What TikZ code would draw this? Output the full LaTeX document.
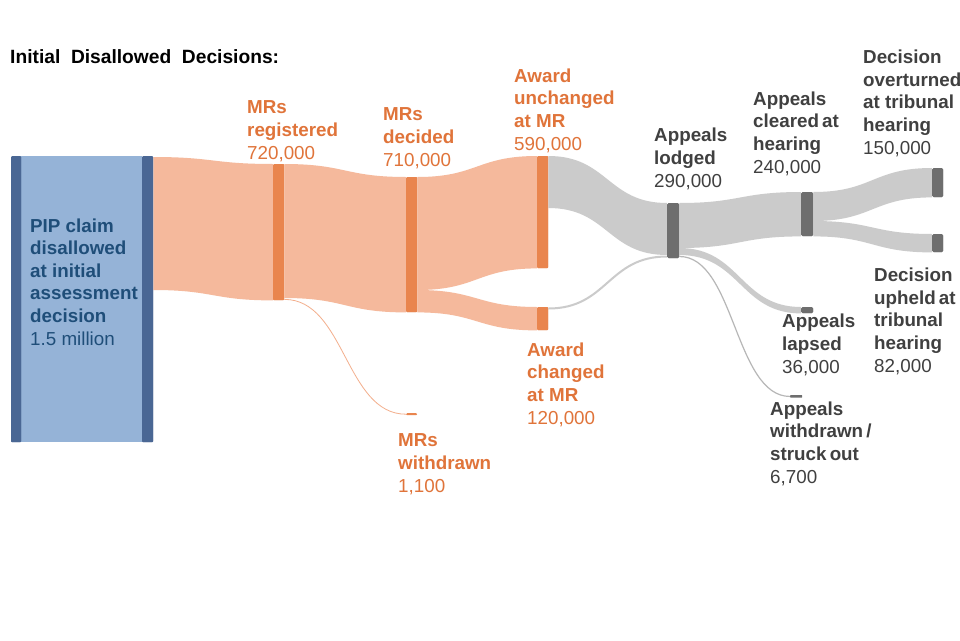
\documentclass[tikz,border=0pt]{standalone}
\usepackage{fontspec}
\setmainfont{Liberation Sans}
\usetikzlibrary{calc}
\definecolor{boxblue}{HTML}{95B3D7}
\definecolor{barblue}{HTML}{4A6794}
\definecolor{txtblue}{HTML}{1F4E79}
\definecolor{barorange}{HTML}{E9854E}
\definecolor{floworange}{HTML}{F5B99C}
\definecolor{txtorange}{HTML}{E0743A}
\definecolor{flowgrey}{HTML}{CBCBCB}
\definecolor{bargrey}{HTML}{6E6E6E}
\definecolor{txtgrey}{HTML}{404040}
\newcommand\flowband[5]{\fill[#5] let \p1=(#1), \p2=(#2), \p3=(#3), \p4=(#4) in
  (\p1) .. controls ({(\x1+\x3)/2},\y1) and ({(\x1+\x3)/2},\y3) .. (\p3) -- (\p4)
  .. controls ({(\x1+\x3)/2},\y4) and ({(\x1+\x3)/2},\y2) .. (\p2) -- cycle;}
\newcommand\flowline[3]{\draw[#3] let \p1=(#1), \p2=(#2) in
  (\p1) .. controls ({(\x1+\x2)/2},\y1) and ({(\x1+\x2)/2},\y2) .. (\p2);}
\begin{document}
\begin{tikzpicture}[x=1pt,y=-1pt,
  barO/.style={fill=barorange, rounded corners=1pt, inner sep=0pt, anchor=north west},
  barG/.style={fill=bargrey, rounded corners=1.5pt, inner sep=0pt, anchor=north west},
  barB/.style={fill=barblue, rounded corners=1pt, inner sep=0pt, anchor=north west},
  lbl/.style={anchor=base west, align=left, inner sep=0pt, font=\fontsize{18.8}{22.6}\selectfont},
  olbl/.style={lbl, text=txtorange},
  glbl/.style={lbl, text=txtgrey},
  blbl/.style={lbl, text=txtblue}]
\clip (0,0) rectangle (960,640);
\fill[white] (0,0) rectangle (960,640);
% title
\node[anchor=base west, inner sep=0pt, font=\fontsize{19.2}{23}\selectfont\bfseries] (title) at (10,63) {Initial\ \ Disallowed\ \ Decisions:};
% bars
\node[fill=boxblue, inner sep=0pt, anchor=north west, minimum width=126pt, minimum height=286pt] (src) at (16,156) {};
\node[barB, minimum width=10pt, minimum height=286pt] (src1) at (11,156) {};
\node[barB, minimum width=11pt, minimum height=286pt] (src2) at (142,156) {};
\node[barO, minimum width=11pt, minimum height=136pt] (reg) at (273,164) {};
\node[barO, minimum width=11pt, minimum height=135pt] (dec) at (406,177) {};
\node[barO, minimum width=11pt, minimum height=2pt] (wd) at (406,413) {};
\node[barO, minimum width=11pt, minimum height=112pt] (unc) at (537,156) {};
\node[barO, minimum width=11pt, minimum height=23pt] (chg) at (537,307) {};
\node[barG, minimum width=12pt, minimum height=55pt] (lod) at (667,203) {};
\node[barG, minimum width=12pt, minimum height=44pt] (clr) at (801,192) {};
\node[barG, minimum width=12pt, minimum height=6pt] (lap) at (801,307) {};
\node[barG, minimum width=12pt, minimum height=2.5pt, rounded corners=0.5pt] (awd) at (790,395) {};
\node[barG, minimum width=11pt, minimum height=29pt] (ovt) at (932,168) {};
\node[barG, minimum width=11pt, minimum height=18pt] (uph) at (932,234) {};
% flow end points
\coordinate (s1) at ($(src2.north east)+(0,1)$);
\coordinate (s2) at ($(src2.north east)+(0,134)$);
\coordinate (r2) at ($(reg.north east)+(0,134)$);
\coordinate (r3) at ($(reg.south east)+(0,-1)$);
\coordinate (d2) at ($(dec.north east)+(0,113)$);
\coordinate (u2) at ($(unc.north east)+(0,52)$);
\coordinate (c1) at ($(chg.north east)+(0,1.5)$);
\coordinate (l1) at ($(lod.north west)+(0,52)$);
\coordinate (l2) at ($(lod.north west)+(0,53.5)$);
\coordinate (l3) at ($(lod.north east)+(0,45)$);
\coordinate (l4) at ($(lod.north east)+(0,52)$);
\coordinate (l5) at ($(lod.north east)+(0,53.5)$);
\coordinate (k2) at ($(clr.north east)+(0,29)$);
% flows
\flowband{s1}{s2}{reg.north west}{reg.south west}{floworange}
\flowband{reg.north east}{r2}{dec.north west}{dec.south west}{floworange}
\flowline{r3}{wd.west}{floworange!80!barorange, line width=0.8pt}
\flowband{dec.north east}{d2}{unc.north west}{unc.south west}{floworange}
\flowband{d2}{dec.south east}{chg.north west}{chg.south west}{floworange}
\flowband{unc.north east}{u2}{lod.north west}{l1}{flowgrey}
\flowline{c1}{l2}{flowgrey, line width=2pt}
\flowband{lod.north east}{l3}{clr.north west}{clr.south west}{flowgrey}
\flowband{l3}{l4}{lap.north west}{lap.south west}{flowgrey}
\flowline{l5}{awd.west}{flowgrey!90!black, line width=1.2pt}
\flowband{clr.north east}{k2}{ovt.north west}{ovt.south west}{flowgrey}
\flowband{k2}{clr.south east}{uph.north west}{uph.south west}{flowgrey}
% redraw bars on top
\node[barB, minimum width=10pt, minimum height=286pt] at (11,156) {};
\node[barB, minimum width=11pt, minimum height=286pt] at (142,156) {};
\node[barO, minimum width=11pt, minimum height=136pt] at (273,164) {};
\node[barO, minimum width=11pt, minimum height=135pt] at (406,177) {};
\node[barO, minimum width=11pt, minimum height=112pt] at (537,156) {};
\node[barO, minimum width=11pt, minimum height=23pt] at (537,307) {};
\node[barG, minimum width=12pt, minimum height=55pt] at (667,203) {};
\node[barG, minimum width=12pt, minimum height=44pt] at (801,192) {};
\node[barG, minimum width=12pt, minimum height=6pt] at (801,307) {};
\node[barG, minimum width=11pt, minimum height=29pt] at (932,168) {};
\node[barG, minimum width=11pt, minimum height=18pt] at (932,234) {};
% labels (anchored at the baseline of their last line)
\node[blbl] (tsrc) at (30,345) {\textbf{PIP claim}\\\textbf{disallowed}\\\textbf{at initial}\\\textbf{assessment}\\\textbf{decision}\\1.5 million};
\node[olbl] (treg) at (247,159) {\textbf{MRs}\\\textbf{registered}\\720,000};
\node[olbl] (tdec) at (383,166) {\textbf{MRs}\\\textbf{decided}\\710,000};
\node[olbl] (tunc) at (514,150) {\textbf{Award}\\\textbf{unchanged}\\\textbf{at MR}\\590,000};
\node[olbl] (tchg) at (527,424) {\textbf{Award}\\\textbf{changed}\\\textbf{at MR}\\120,000};
\node[olbl] (twd) at (398,492) {\textbf{MRs}\\\textbf{withdrawn}\\1,100};
\node[glbl] (tlod) at (654,187) {\textbf{Appeals}\\\textbf{lodged}\\290,000};
\node[glbl] (tclr) at (753,173) {\textbf{Appeals}\\\textbf{cleared\,at}\\\textbf{hearing}\\240,000};
\node[glbl] (tovt) at (863,154) {\textbf{Decision}\\\textbf{overturned}\\\textbf{at tribunal}\\\textbf{hearing}\\150,000};
\node[glbl] (tuph) at (874,372) {\textbf{Decision}\\\textbf{upheld\,at}\\\textbf{tribunal}\\\textbf{hearing}\\82,000};
\node[glbl] (tlap) at (782,373) {\textbf{Appeals}\\\textbf{lapsed}\\36,000};
\node[glbl] (tawd) at (770,483) {\textbf{Appeals}\\\textbf{withdrawn\,/}\\\textbf{struck\,out}\\6,700};
\end{tikzpicture}
\end{document}
